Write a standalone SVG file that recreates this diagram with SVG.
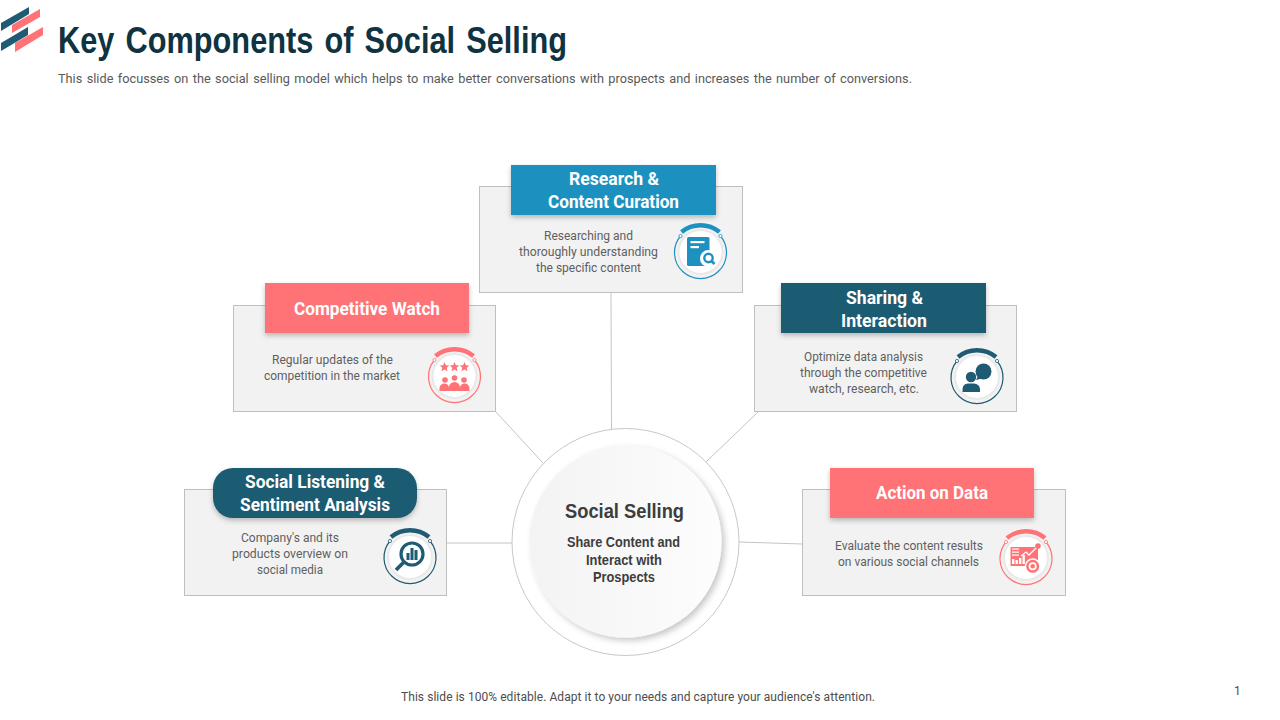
<svg xmlns="http://www.w3.org/2000/svg" xmlns:xlink="http://www.w3.org/1999/xlink" width="1280" height="720" viewBox="0 0 1280 720">
<style>
text{font-family:"Roboto","Liberation Sans",sans-serif}
.title{font-family:"Liberation Sans","Roboto",sans-serif;font-size:36px;font-weight:700;fill:#0f3340;word-spacing:3px}
.sub{font-size:12px;fill:#595959;word-spacing:1.200px}
.body{font-size:12.500px;fill:#5f5f5f}
.head{font-size:18.500px;font-weight:700;fill:#fff}
.card{fill:#f2f2f2;stroke:#bfbfbf;stroke-width:1}
.conn{stroke:#c4c4c4;stroke-width:1;fill:none}
.blue{color:#1f91c0;fill:#1f91c0}
.coral{color:#ff7276;fill:#ff7276}
.teal{color:#1f5b73;fill:#1f5b73}
.cc{font-family:"Liberation Sans","Roboto",sans-serif;fill:#3d3d3d;font-weight:700}
</style>
<defs>
<filter id="sh" x="-10%" y="-20%" width="120%" height="150%"><feDropShadow dx="0" dy="2.500" stdDeviation="2.500" flood-color="#000" flood-opacity="0.25"/></filter>
<filter id="csh" x="-15%" y="-15%" width="130%" height="130%"><feDropShadow dx="3" dy="3" stdDeviation="3" flood-color="#000" flood-opacity="0.22"/></filter>
<linearGradient id="cg" x1="0" y1="0" x2="1" y2="0"><stop offset="0" stop-color="#f3f3f3"/><stop offset="1" stop-color="#fdfdfd"/></linearGradient>
<g id="ring">
<circle r="22" fill="#fff" stroke="#e9e9e9" stroke-width="2"/>
<path d="M-20,-16 A26,26 0 1 0 20,-16" fill="none" stroke="currentColor" stroke-width="1.200"/>
<path d="M-19,-20 A30,30 0 0 1 19,-20" fill="none" stroke="currentColor" stroke-width="4.400"/>
<circle cx="-20" cy="-16" r="1.600" fill="#fff" stroke="currentColor" stroke-width="0.800"/>
<circle cx="20" cy="-16" r="1.600" fill="#fff" stroke="currentColor" stroke-width="0.800"/>
</g>
</defs>
<rect width="1280" height="720" fill="#fff"/>
<g id="logo">
<polygon points="1,23 29,7 29,14 1,31" fill="#1f5b73"/>
<polygon points="12,25 40,9 40,17 12,33" fill="#ff7276"/>
<polygon points="1,43 28,27 28,35 1,51" fill="#1f5b73"/>
<polygon points="15,43 43,27 43,35 15,52" fill="#ff7276"/>
</g>
<g id="heading">
<text class="title" x="58" y="53" textLength="509" lengthAdjust="spacingAndGlyphs">Key Components of Social Selling</text>
<text class="sub" x="58" y="83" textLength="854" lengthAdjust="spacingAndGlyphs">This slide focusses on the social selling model which helps to make better conversations with prospects and increases the number of conversions.</text>
</g>
<g id="connectors">
<line class="conn" x1="611" y1="292" x2="611.500" y2="429"/>
<line class="conn" x1="496" y1="412" x2="543" y2="463"/>
<line class="conn" x1="758" y1="412" x2="706" y2="462"/>
<line class="conn" x1="447" y1="543" x2="512" y2="543"/>
<line class="conn" x1="739" y1="542" x2="802" y2="544"/>
</g>
<g id="node-center">
<circle cx="625.500" cy="542" r="113.500" fill="#fff" stroke="#c8c8c8" stroke-width="1"/>
<circle cx="625.500" cy="541.500" r="96" fill="url(#cg)" filter="url(#csh)"/>
<text class="cc" x="565" y="518" font-size="20.500" textLength="119" lengthAdjust="spacingAndGlyphs">Social Selling</text>
<text class="cc" x="567" y="547" font-size="14" textLength="113" lengthAdjust="spacingAndGlyphs">Share Content and</text>
<text class="cc" x="586" y="565" font-size="14" textLength="76" lengthAdjust="spacingAndGlyphs">Interact with</text>
<text class="cc" x="593" y="582" font-size="14" textLength="62" lengthAdjust="spacingAndGlyphs">Prospects</text>
</g>
<g id="node-research">
<rect class="card" x="479.500" y="186.500" width="263" height="106"/>
<rect class="blue" x="511" y="165" width="205" height="50" filter="url(#sh)"/>
<text class="head" x="569" y="185" textLength="90" lengthAdjust="spacingAndGlyphs">Research &amp;</text>
<text class="head" x="548" y="208" textLength="131" lengthAdjust="spacingAndGlyphs">Content Curation</text>
<text class="body" x="544" y="240" textLength="89" lengthAdjust="spacingAndGlyphs">Researching and</text>
<text class="body" x="519" y="256" textLength="139" lengthAdjust="spacingAndGlyphs">thoroughly understanding</text>
<text class="body" x="536" y="272" textLength="105" lengthAdjust="spacingAndGlyphs">the specific content</text>
<g transform="translate(700.500,252)" class="blue">
<use xlink:href="#ring" href="#ring"/>
<rect x="-13.500" y="-15" width="22.500" height="29" rx="1.500"/>
<rect x="-10" y="-11" width="14" height="2.200" fill="#fff"/>
<rect x="-10" y="-6" width="8.500" height="2.200" fill="#fff"/>
<circle cx="8" cy="6.500" r="8.500" fill="#fff"/>
<circle cx="8" cy="6" r="4.200" fill="none" stroke="#1f91c0" stroke-width="2.400"/>
<line x1="11" y1="9" x2="14" y2="12" stroke="#1f91c0" stroke-width="2.600"/>
</g>
</g>
<g id="node-competitive">
<rect class="card" x="233.500" y="305.500" width="262" height="106"/>
<rect class="coral" x="265" y="283" width="204" height="50" filter="url(#sh)"/>
<text class="head" x="294" y="315" textLength="146" lengthAdjust="spacingAndGlyphs">Competitive Watch</text>
<text class="body" x="272" y="364" textLength="121" lengthAdjust="spacingAndGlyphs">Regular updates of the</text>
<text class="body" x="264" y="380" textLength="136" lengthAdjust="spacingAndGlyphs">competition in the market</text>
<g transform="translate(454.500,376)" class="coral">
<use xlink:href="#ring" href="#ring"/>
<polygon points="-10,-14 -8.600,-10.800 -5.200,-10.500 -7.800,-8.200 -7,-4.800 -10,-6.600 -13,-4.800 -12.200,-8.200 -14.800,-10.500 -11.400,-10.800"/>
<polygon points="0,-14 1.400,-10.800 4.800,-10.500 2.200,-8.200 3,-4.800 0,-6.600 -3,-4.800 -2.200,-8.200 -4.800,-10.500 -1.400,-10.800"/>
<polygon points="10,-14 11.400,-10.800 14.800,-10.500 12.200,-8.200 13,-4.800 10,-6.600 7,-4.800 7.800,-8.200 5.200,-10.500 8.600,-10.800"/>
<circle cx="-9.500" cy="4" r="2.800"/><circle cx="0" cy="2" r="2.800"/><circle cx="9.500" cy="4" r="2.800"/>
<path d="M-15,15 V13 A4.800,4.800 0 0 1 -5.500,11.500 V15Z"/>
<path d="M-5.500,15 V11.500 A5.500,5.500 0 0 1 5.500,11.500 V15Z"/>
<path d="M5.500,15 V11.500 A4.800,4.800 0 0 1 15,13 V15Z"/>
</g>
</g>
<g id="node-sharing">
<rect class="card" x="754.500" y="305.500" width="262" height="106"/>
<rect class="teal" x="781" y="283" width="205" height="50" filter="url(#sh)"/>
<text class="head" x="846" y="304" textLength="77" lengthAdjust="spacingAndGlyphs">Sharing &amp;</text>
<text class="head" x="841" y="327" textLength="86" lengthAdjust="spacingAndGlyphs">Interaction</text>
<text class="body" x="804" y="361" textLength="119" lengthAdjust="spacingAndGlyphs">Optimize data analysis</text>
<text class="body" x="800" y="377" textLength="127" lengthAdjust="spacingAndGlyphs">through the competitive</text>
<text class="body" x="809" y="393" textLength="110" lengthAdjust="spacingAndGlyphs">watch, research, etc.</text>
<g transform="translate(977,377)" class="teal">
<use xlink:href="#ring" href="#ring"/>
<circle cx="-6" cy="0" r="5.200"/>
<path d="M-14.500,15 V12 A6,6 0 0 1 -9,6.500 H-3 A6,6 0 0 1 3,12 V15Z"/>
<circle cx="6.500" cy="-5.500" r="8"/>
<path d="M1,-1 L-1,3 L5,1.500Z"/>
</g>
</g>
<g id="node-listening">
<rect class="card" x="184.500" y="489.500" width="262" height="106"/>
<rect class="teal" x="213" y="468" width="204" height="50" rx="20" filter="url(#sh)"/>
<text class="head" x="245" y="488" textLength="140" lengthAdjust="spacingAndGlyphs">Social Listening &amp;</text>
<text class="head" x="240" y="511" textLength="150" lengthAdjust="spacingAndGlyphs">Sentiment Analysis</text>
<text class="body" x="241" y="542" textLength="98" lengthAdjust="spacingAndGlyphs">Company's and its</text>
<text class="body" x="232" y="558" textLength="116" lengthAdjust="spacingAndGlyphs">products overview on</text>
<text class="body" x="257" y="574" textLength="66" lengthAdjust="spacingAndGlyphs">social media</text>
<g transform="translate(410,557)" class="teal">
<use xlink:href="#ring" href="#ring"/>
<circle cx="2" cy="-3" r="11" fill="none" stroke="#1f5b73" stroke-width="3.200"/>
<rect x="-3.500" y="-4" width="3" height="7"/><rect x="0.500" y="-9" width="3" height="12"/><rect x="4.500" y="-7" width="3" height="10"/>
<line x1="-6" y1="5" x2="-14" y2="13" stroke="#1f5b73" stroke-width="3.800"/>
</g>
</g>
<g id="node-action">
<rect class="card" x="802.500" y="489.500" width="263" height="106"/>
<rect class="coral" x="830" y="468" width="204" height="50" filter="url(#sh)"/>
<text class="head" x="876" y="499" textLength="112" lengthAdjust="spacingAndGlyphs">Action on Data</text>
<text class="body" x="835" y="550" textLength="148" lengthAdjust="spacingAndGlyphs">Evaluate the content results</text>
<text class="body" x="838" y="566" textLength="141" lengthAdjust="spacingAndGlyphs">on various social channels</text>
<g transform="translate(1026,558)" class="coral">
<use xlink:href="#ring" href="#ring"/>
<rect x="-15.500" y="-11" width="27.500" height="19"/>
<g fill="#fff">
<rect x="-14" y="-9.500" width="7" height="1.200"/><rect x="-14" y="-6.500" width="7" height="1.200"/><rect x="-14" y="-3.500" width="7" height="1.200"/>
<rect x="-14" y="1" width="2.400" height="5"/><rect x="-10.500" y="2" width="2.400" height="4"/><rect x="-7" y="0" width="2.400" height="6"/><rect x="-3.500" y="-3" width="2.400" height="9"/>
</g>
<polyline points="-5,-2 0,-6 3,-3 11,-11" fill="none" stroke="#fff" stroke-width="1.300"/>
<circle cx="12" cy="-12" r="2.800"/>
<circle cx="6.700" cy="8.300" r="8" fill="#fff"/>
<circle cx="6.700" cy="8.300" r="6.500"/>
<circle cx="6.700" cy="8.300" r="4" fill="#fff"/>
<circle cx="6.700" cy="8.300" r="2.200"/>
</g>
</g>
<g id="footer">
<text x="401" y="701" font-size="12" fill="#4d4d4d" textLength="474" lengthAdjust="spacing">This slide is 100% editable. Adapt it to your needs and capture your audience's attention.</text>
<text x="1234" y="695" font-size="12" fill="#4d4d4d">1</text>
</g>
</svg>
